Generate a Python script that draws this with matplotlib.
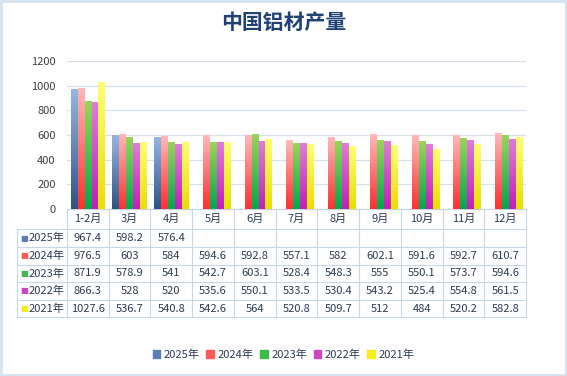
import numpy as np
import matplotlib.pyplot as plt
from matplotlib.colors import LinearSegmentedColormap
from matplotlib.patches import Rectangle

plt.rcParams['font.family'] = ['Noto Sans CJK SC', 'DejaVu Sans']

months = ["1-2月", "3月", "4月", "5月", "6月", "7月", "8月", "9月", "10月", "11月", "12月"]
years = ["2025年", "2024年", "2023年", "2022年", "2021年"]
y2025 = [967.4, 598.2, 576.4, np.nan, np.nan, np.nan, np.nan, np.nan, np.nan, np.nan, np.nan]
y2024 = [976.5, 603, 584, 594.6, 592.8, 557.1, 582, 602.1, 591.6, 592.7, 610.7]
y2023 = [871.9, 578.9, 541, 542.7, 603.1, 528.4, 548.3, 555, 550.1, 573.7, 594.6]
y2022 = [866.3, 528, 520, 535.6, 550.1, 533.5, 530.4, 543.2, 525.4, 554.8, 561.5]
y2021 = [1027.6, 536.7, 540.8, 542.6, 564, 520.8, 509.7, 512, 484, 520.2, 582.8]
series = [y2025, y2024, y2023, y2022, y2021]

# (bottom, top) gradient colours, plus a solid colour for markers
grads = [("#2E5487", "#95B6E0"), ("#FF3030", "#FFB8B8"), ("#00A84F", "#9AD45A"),
         ("#C21FB8", "#E27BD8"), ("#E8E000", "#FFFF70")]
solid = ["#5B7FB5", "#FF5A5A", "#3DBB4A", "#CC44C4", "#F2EE20"]

fig = plt.figure(figsize=(5.67, 3.76), dpi=100)
fig.patch.set_facecolor("white")
fig.patches.append(Rectangle((0.002, 0.003), 0.996, 0.994, transform=fig.transFigure,
                             fill=False, ec="#D5E2F0", lw=2))
ax = fig.add_axes([0.118, 0.444, 0.810, 0.394])

x = np.arange(len(months))
w = 0.155
offs = (np.arange(5) - 2) * (w + 0.012)
for i, vals in enumerate(series):
    cmap = LinearSegmentedColormap.from_list("g%d" % i, [grads[i][0], grads[i][1]])
    bars = ax.bar(x + offs[i], vals, w, color=solid[i], zorder=2)
    for b in bars:
        h = b.get_height()
        if not np.isfinite(h) or h <= 0:
            continue
        x0 = b.get_x()
        ax.imshow(np.linspace(0, 1, 64).reshape(-1, 1), cmap=cmap, origin="lower",
                  extent=(x0, x0 + w, 0, h), aspect="auto", zorder=3)

ax.set_xlim(-0.5, len(months) - 0.5)
ax.set_ylim(0, 1200)
ax.set_yticks(range(0, 1201, 200))
ax.grid(axis="y", color="#D9E1EA", lw=0.9, zorder=0)
ax.set_axisbelow(True)
for s in ["top", "right", "left"]:
    ax.spines[s].set_visible(False)
ax.spines["bottom"].set_color("#C5D3E4")
ax.tick_params(axis="y", length=0, labelsize=8, labelcolor="#404040", pad=8)
ax.tick_params(axis="x", length=0, labelbottom=False)

# data table below the plot
tr = ax.get_xaxis_transform()
rh = 17.6 / 148  # row height in axes units
lc = "#C8D6E6"
tc = "#2F3B52"
lab_left = -0.5 - 50 / 41.7
n = len(months)
# category header row
for j, m in enumerate(months):
    ax.text(j, -rh * 0.58, m, transform=tr, ha="center", va="center", fontsize=8, color=tc, clip_on=False)
for k in range(n + 1):
    ax.plot([k - 0.5, k - 0.5], [0, -rh * 6.15], transform=tr, color=lc, lw=0.8, clip_on=False)
ax.plot([lab_left, lab_left], [-rh * 1.15, -rh * 6.15], transform=tr, color=lc, lw=0.8, clip_on=False)
for r in range(6):
    yy = -rh * (1.15 + r)
    ax.plot([lab_left, n - 0.5], [yy, yy], transform=tr, color=lc, lw=0.8, clip_on=False)
for r, (yr, vals) in enumerate(zip(years, series)):
    yc = -rh * (1.65 + r)
    ax.text(lab_left + 0.08, yc, "■", transform=tr, ha="left", va="center", fontsize=6,
            color=solid[r], family=["DejaVu Sans"], clip_on=False)
    ax.text(lab_left + 0.28, yc, yr, transform=tr, ha="left", va="center", fontsize=8, color=tc, clip_on=False)
    for j, v in enumerate(vals):
        if np.isfinite(v):
            ax.text(j, yc, "%g" % v, transform=tr, ha="center", va="center", fontsize=8, color=tc, clip_on=False)

# legend
handles = [Rectangle((0, 0), 1, 1, color=c) for c in solid]
fig.legend(handles, years, loc="center", bbox_to_anchor=(0.5, 0.056), ncol=5, frameon=False,
           fontsize=8, handlelength=0.7, handleheight=0.7, handletextpad=0.3, columnspacing=0.6,
           labelcolor=tc)

fig.text(0.5, 0.94, "中国铝材产量", ha="center", va="center", fontsize=15, fontweight="bold", color="#1F4272")

fig.savefig("out.png", dpi=100)
